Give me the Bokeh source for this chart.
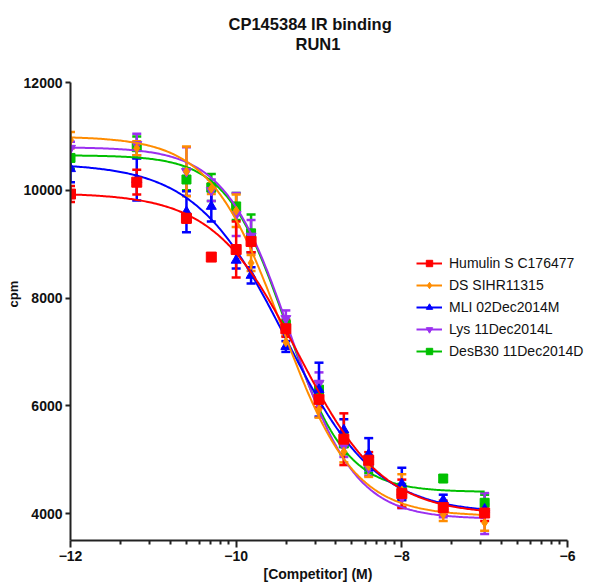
import numpy as np
from bokeh.plotting import figure
from bokeh.models import (ColumnDataSource, Whisker, TeeHead, Legend, LegendItem,
                          FixedTicker, Range1d, Title)
from bokeh.embed import file_html
from bokeh.resources import INLINE

# ---- data (log10 molar competitor concentration) ----
log_conc = [-12, -11.2, -10.6, -10.3, -10, -9.82, -9.4, -9, -8.7, -8.4, -8, -7.5, -7]

names = ["Humulin S C176477", "DS SIHR11315", "MLI 02Dec2014M", "Lys 11Dec2014L", "DesB30 11Dec2014D"]
colors = ["#FF0000", "#FF8C00", "#0000FF", "#9B30F0", "#00C000"]
markers = ["square", "diamond", "triangle", "inverted_triangle", "square"]

humulin_mean = [9930, 10150, 9480, 8760, 8900, 9050, 7430, 6120, 5380, 4990, 4370, 4110, 4010]
humulin_err = [150, 230, 80, 70, 520, 200, 150, 150, 480, 150, 260, 130, 150]
ds_mean = [10930, 10780, 10350, 10030, 9620, 8650, 7180, 5930, 5150, 4880, 4430, 3980, 3830]
ds_err = [150, 130, 460, 100, 300, 150, 120, 150, 200, 200, 300, 120, 150]
mli_mean = [10400, 10200, 9600, 9700, 8700, 8420, 7100, 6300, 5550, 5100, 4550, 4250, 4080]
mli_err = [250, 390, 380, 280, 150, 150, 100, 500, 200, 300, 300, 100, 100]
lys_mean = [10780, 10850, 10350, 10000, 9550, 9150, 7620, 6420, 5250, 4850, 4300, 4030, 4000]
lys_err = [120, 200, 450, 200, 400, 300, 150, 200, 200, 150, 200, 100, 380]
desb30_mean = [10600, 10800, 10200, 10050, 9700, 9200, 7500, 6300, 5300, 4900, 4400, 4650, 4200]
desb30_err = [200, 200, 200, 250, 250, 350, 100, 150, 200, 150, 150, 60, 150]

# four-parameter logistic fit parameters
fit_top = [9950, 11000, 10500, 10800, 10650]
fit_bottom = [3980, 3950, 4000, 3900, 4400]
fit_logec50 = [-9.25, -9.45, -9.4, -9.35, -9.4]
fit_hill = [0.85, 1.0, 0.8, 1.1, 1.2]

means = [humulin_mean, ds_mean, mli_mean, lys_mean, desb30_mean]
errs = [humulin_err, ds_err, mli_err, lys_err, desb30_err]
marker_sizes = [10, 9, 10, 10, 9]

x_ticks = [-12, -10, -8, -6]
y_ticks = [4000, 6000, 8000, 10000, 12000]
minor_x = [d + 2 * np.log10(k) for d in [-12, -10, -8] for k in range(2, 10)]

FONT = "Liberation Sans"
TXT = "#111111"

# frame spans 70..605 px; the x axis is drawn only over -12..-6 (ends at ~567 px)
p = figure(width=607, height=584, output_backend="svg", toolbar_location=None,
           x_range=Range1d(-12, -5.541), y_range=Range1d(3500, 12000),
           min_border_left=70, min_border_right=2, min_border_top=82, min_border_bottom=44)
p.outline_line_color = None
p.xgrid.visible = False
p.ygrid.visible = False
p.background_fill_color = "white"
p.border_fill_color = "white"

sub = Title(text="RUN1", align="left", text_font=FONT, offset=225,
            text_font_size="16.5px", text_font_style="bold", text_color=TXT,
            standoff=59)
main = Title(text="CP145384 IR binding", align="left", text_font=FONT, offset=158,
             text_font_size="16.5px", text_font_style="bold", text_color=TXT,
             standoff=-58)
p.add_layout(sub, "above")
p.add_layout(main, "above")

for ax in (p.xaxis[0], p.yaxis[0]):
    ax.axis_line_width = 2
    ax.axis_line_color = "#222222"
    ax.major_tick_line_width = 2
    ax.major_tick_line_color = "#222222"
    ax.minor_tick_line_width = 2
    ax.minor_tick_line_color = "#222222"
    ax.major_tick_in = 0
    ax.minor_tick_in = 0
    ax.major_label_text_font = FONT
    ax.major_label_text_font_style = "bold"
    ax.major_label_text_font_size = "14px"
    ax.major_label_text_color = TXT
    ax.major_label_standoff = 3

p.xaxis.ticker = FixedTicker(ticks=x_ticks, minor_ticks=minor_x)
p.xaxis.bounds = (-12, -6)
p.xaxis.major_tick_out = 7
p.xaxis.minor_tick_out = 4
p.yaxis.ticker = FixedTicker(ticks=y_ticks, minor_ticks=[])
p.yaxis.major_tick_out = 5
p.yaxis.minor_tick_out = 0

xlab = Title(text="[Competitor] (M)", align="left", text_font=FONT, offset=193,
             text_font_size="14px", text_font_style="bold", text_color=TXT, standoff=0)
p.add_layout(xlab, "below")
ylab = Title(text="cpm", align="left", text_font=FONT, offset=233,
             text_font_size="13px", text_font_style="bold", text_color=TXT, standoff=0)
p.add_layout(ylab, "left")

x_fit = np.linspace(log_conc[0], log_conc[-1], 300)

items = []
rend = {}
for i in reversed(range(5)):
    c = colors[i]
    y_fit = fit_bottom[i] + (fit_top[i] - fit_bottom[i]) / (1 + 10 ** ((x_fit - fit_logec50[i]) * fit_hill[i]))
    line_r = p.line(x_fit, y_fit, line_color=c, line_width=2)
    m = np.array(means[i], dtype=float)
    e = np.array(errs[i], dtype=float)
    src = ColumnDataSource(data=dict(x=log_conc, y=m, upper=m + e, lower=m - e))
    wh = Whisker(source=src, base="x", upper="upper", lower="lower",
                 line_color=c, line_width=2.5,
                 upper_head=TeeHead(size=9, line_color=c, line_width=2.5),
                 lower_head=TeeHead(size=9, line_color=c, line_width=2.5))
    p.add_layout(wh)
    sc = p.scatter("x", "y", source=src, marker=markers[i], size=marker_sizes[i],
                   fill_color=c, line_color=c)
    rend[i] = (line_r, sc)

for i in range(5):
    items.append(LegendItem(label=names[i], renderers=list(rend[i])))

legend = Legend(items=items, location=(346, 180), background_fill_alpha=0,
                border_line_color=None, label_text_font=FONT, label_text_font_size="14px",
                label_text_color=TXT, glyph_width=26, glyph_height=16,
                label_height=18, spacing=4, padding=0, margin=0, label_standoff=7)
p.add_layout(legend, "center")

open("out.html", "w").write(file_html(p, INLINE))
